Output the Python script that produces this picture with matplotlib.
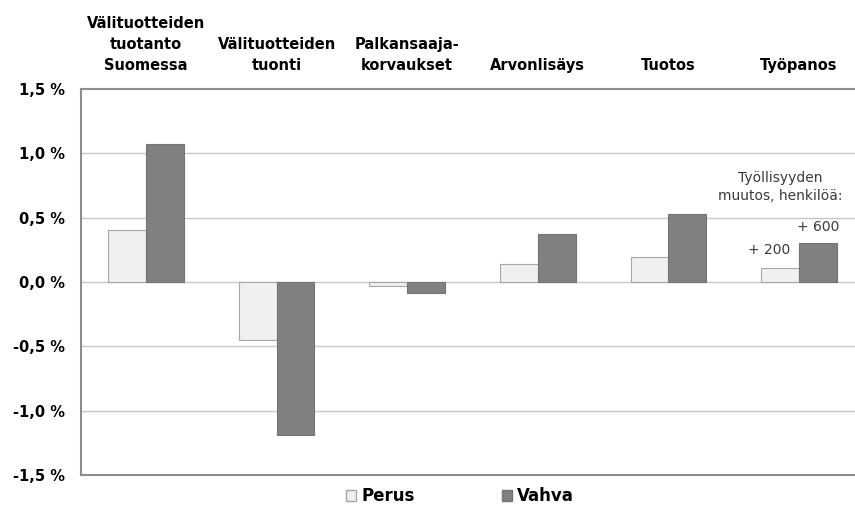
import matplotlib.pyplot as plt
from matplotlib.patches import Patch
from matplotlib.transforms import blended_transform_factory
import numpy as np

plt.rcParams['font.family'] = ['DejaVu Sans']

categories = ["Välituotteiden\ntuotanto\nSuomessa", "Välituotteiden\ntuonti",
              "Palkansaaja-\nkorvaukset", "Arvonlisäys", "Tuotos", "Työpanos"]
perus = [0.40, -0.45, -0.03, 0.14, 0.19, 0.11]
vahva = [1.07, -1.19, -0.085, 0.37, 0.53, 0.30]
yticks = [-1.5, -1.0, -0.5, 0.0, 0.5, 1.0, 1.5]
employment = ["+ 200", "+ 600"]

fig = plt.figure(figsize=(8.55, 5.14), dpi=100)
# plot area runs a little past the right edge of the figure
ax = fig.add_axes([0.0944, 0.076, 0.9165, 0.751])

x = np.arange(len(categories))
w = 0.29
ax.bar(x - w / 2, perus, w, color="#f0f0f0", edgecolor="#a6a6a6", linewidth=0.8, zorder=3)
ax.bar(x + w / 2, vahva, w, color="#808080", edgecolor="#747474", linewidth=0.8, zorder=3)

ax.set_xlim(-0.5, len(categories) - 0.5)
ax.set_ylim(-1.5, 1.5)
ax.set_yticks(yticks)
ax.set_yticklabels([f"{v:.1f} %".replace(".", ",") for v in yticks],
                   fontsize=10.5, fontweight="bold")
ax.tick_params(axis="y", length=0, pad=11.5)
ax.set_xticks([])
for v in yticks[1:-1]:
    ax.axhline(v, color="#c8c8c8", linewidth=1, zorder=1)

for side in ["left", "top", "bottom"]:
    ax.spines[side].set_color("#8c8c8c")
    ax.spines[side].set_linewidth(1.5)
ax.spines["right"].set_visible(False)

# category names above the plot
trans = blended_transform_factory(ax.transData, ax.transAxes)
for i, name in enumerate(categories):
    ax.text(i, 1.04, name, transform=trans, ha="center", va="bottom",
            fontsize=10.5, fontweight="bold", linespacing=1.5)

# employment change notes for Työpanos
ax.text(4.855, 0.74, "Työllisyyden\nmuutos, henkilöä:", ha="center", va="center",
        fontsize=10, color="#3a3a3a", linespacing=1.35)
ax.text(4.77, perus[5] + 0.14, employment[0], ha="center", va="center",
        fontsize=10, color="#3a3a3a")
ax.text(5.145, vahva[5] + 0.127, employment[1], ha="center", va="center",
        fontsize=10, color="#3a3a3a")

handles = [Patch(facecolor="#f0f0f0", edgecolor="#a6a6a6", label="Perus"),
           Patch(facecolor="#808080", edgecolor="#747474", label="Vahva")]
fig.legend(handles=handles, loc="lower center", bbox_to_anchor=(0.538, -0.012), ncol=2,
           frameon=False, prop={"size": 12, "weight": "bold"},
           handlelength=0.6, handleheight=0.6, handletextpad=0.3, columnspacing=5.25)

fig.savefig("out.png", dpi=100)
